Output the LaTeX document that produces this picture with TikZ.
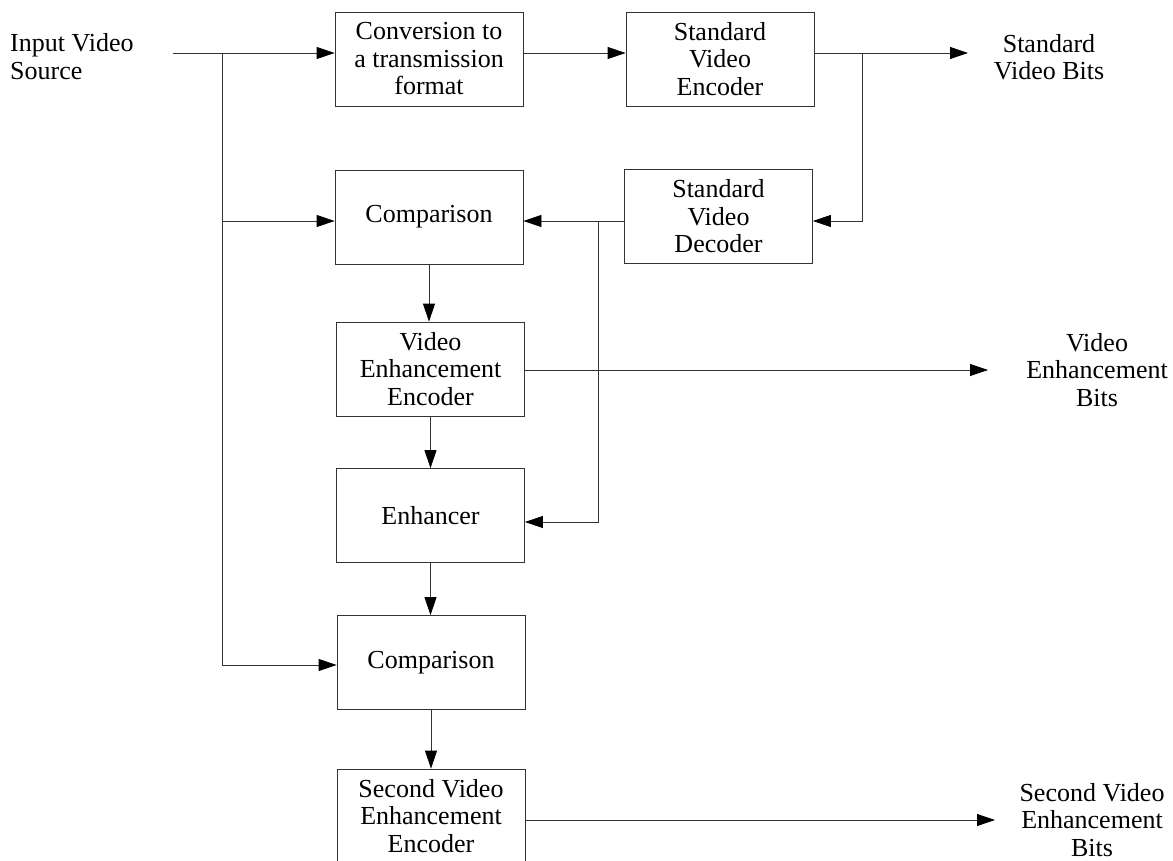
\documentclass[tikz,border=0pt]{standalone}
\usepackage{fontspec}
\setmainfont{Liberation Serif}
\usetikzlibrary{arrows.meta,calc}
\begin{document}
\begin{tikzpicture}[x=1pt,y=-1pt,
  txt/.style={font=\fontsize{26}{27.5}\selectfont},
  box/.style={txt, draw=black!80, line width=0.8pt, minimum width=188pt,
              minimum height=94pt, inner sep=0pt, align=center},
  lbl/.style={txt, inner sep=0pt, align=center},
  wire/.style={draw=black!80, line width=0.8pt},
  flow/.style={wire, -{Triangle[length=18pt,width=12pt,color=black,fill=black]}}]
\useasboundingbox[fill=white] (0,0) rectangle (1173,861);

% processing blocks
\node[box] (conv) at (429,59)      {Conversion to\\a transmission\\format};
\node[box] (enc)  at (720,59)      {Standard\\Video\\Encoder};
\node[box] (cmp1) at (429,217)     {Comparison};
\node[box] (dec)  at (718.5,216.5) {Standard\\Video\\Decoder};
\node[box] (vee)  at (430.5,369)   {Video\\Enhancement\\Encoder};
\node[box] (enh)  at (430.5,515.5) {Enhancer};
\node[box] (cmp2) at (431,662.5)   {Comparison};
\node[box] (svee) at (431,816)     {Second Video\\Enhancement\\Encoder};

% inputs and outputs
\node[lbl, align=left, anchor=west] (src) at (10,56.5) {Input Video\\Source};
\node[lbl] (sbits)  at (1049,57)  {Standard\\Video Bits};
\node[lbl] (vbits)  at (1097,370) {Video\\Enhancement\\Bits};
\node[lbl] (svbits) at (1092,820) {Second Video\\Enhancement\\Bits};

% wire junctions and free ends
\coordinate (srcEnd) at (173,53);
\coordinate (tapA)   at (222,53);
\coordinate (tapB)   at (862,53);
\coordinate (tapC)   at (598,221);
\coordinate (rowEnh) at (0,522);
\coordinate (rowCmp) at (0,665);
\coordinate (sbTip)  at (968,53);
\coordinate (vbTip)  at (988,370);
\coordinate (svTip)  at (995,820);

% main path
\draw[flow] (srcEnd) -- (srcEnd -| conv.west);
\draw[flow] (conv.east |- srcEnd) -- (enc.west |- srcEnd);
\draw[flow] (enc.east |- srcEnd) -- (sbTip);

% local decoding loop
\draw[flow] (tapB) |- (dec.east |- tapC);
\draw[flow] (dec.west |- tapC) -- (cmp1.east |- tapC);
\draw[flow] (tapC) |- (enh.east |- rowEnh);

% source taps to the comparisons
\draw[flow] (tapA) |- (cmp1.west |- tapC);
\draw[flow] (tapA) |- (cmp2.west |- rowCmp);

% enhancement chain
\draw[flow] (cmp1.south) -- (cmp1.south |- vee.north);
\draw[flow] (vee.south) -- (vee.south |- enh.north);
\draw[flow] (enh.south) -- (enh.south |- cmp2.north);
\draw[flow] (cmp2.south) -- (cmp2.south |- svee.north);

% enhancement outputs
\draw[flow] (vee.east |- vbTip) -- (vbTip);
\draw[flow] (svee.east |- svTip) -- (svTip);
\end{tikzpicture}
\end{document}
